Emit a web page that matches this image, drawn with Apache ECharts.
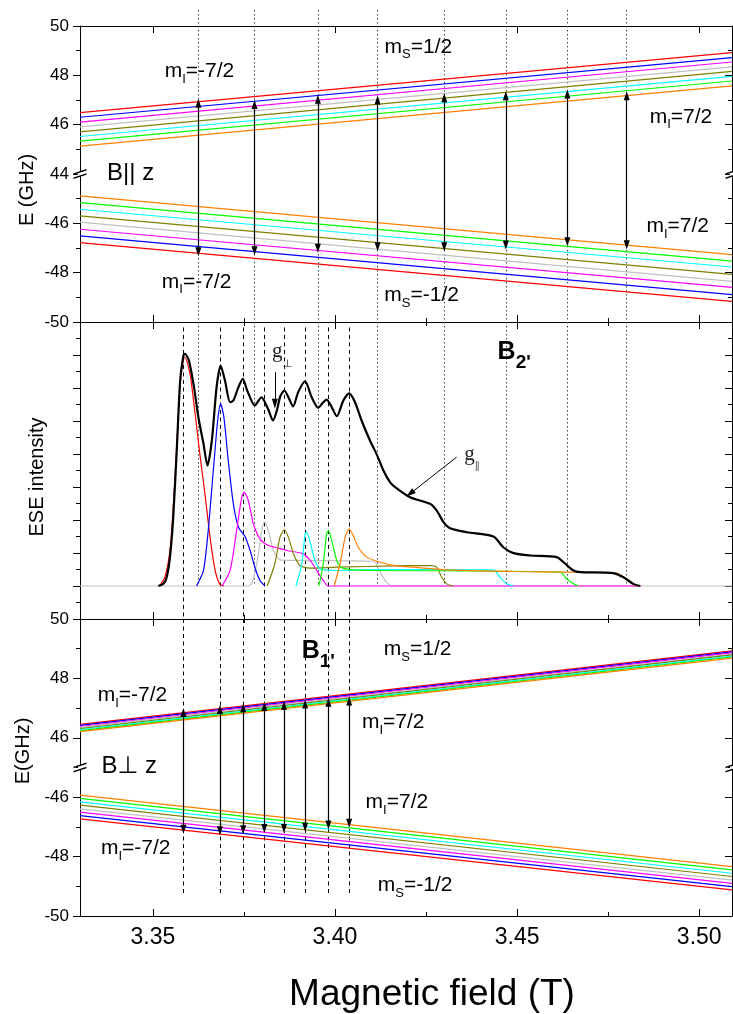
<!DOCTYPE html>
<html>
<head>
<meta charset="utf-8">
<script src="https://cdn.jsdelivr.net/npm/echarts@6/dist/echarts.min.js"></script>
<style>html,body{margin:0;padding:0;background:#fff}#main{width:733px;height:1014px}</style>
</head>
<body>
<div id="main"></div>
<script>
// magnetic field range (T) and x ticks
const fieldRange = [3.33, 3.509];
const xMajorTicks = [3.35, 3.40, 3.45, 3.50];
const xMinorTicks = [3.375, 3.425, 3.475];

// colours of the hyperfine lines, mI = -7/2 ... 7/2
const mIColors = ['#ff0000', '#0000ff', '#ff00ff', '#c0c0c0', '#808000', '#00ffff', '#00ff00', '#ff8000'];

// B || z : levels (GHz) at the two ends of the field range, mI = -7/2 ... 7/2
const parUpperStart = [46.49, 46.30, 46.10, 45.91, 45.71, 45.52, 45.33, 45.13];
const parUpperEnd   = [48.92, 48.72, 48.54, 48.34, 48.16, 47.96, 47.77, 47.57];
const parLowerStart = [-46.78, -46.51, -46.24, -45.95, -45.70, -45.43, -45.16, -44.89];
const parLowerEnd   = [-49.16, -48.89, -48.60, -48.35, -48.07, -47.77, -47.53, -47.27];
// B || z : transitions
const parFields = [3.3625, 3.3779, 3.3953, 3.4117, 3.4300, 3.4469, 3.4638, 3.4801];
const parTop    = [46.87, 46.82, 47.03, 47.00, 47.09, 47.17, 47.24, 47.17];
const parBottom = [-47.15, -47.11, -47.01, -46.95, -46.95, -46.88, -46.75, -46.87];

// B perp z : levels
const perUpperStart = [46.45, 46.42, 46.38, 46.35, 46.31, 46.28, 46.24, 46.21];
const perUpperEnd   = [48.93, 48.89, 48.86, 48.82, 48.79, 48.75, 48.72, 48.68];
const perLowerStart = [-46.73, -46.62, -46.50, -46.39, -46.27, -46.16, -46.04, -45.93];
const perLowerEnd   = [-49.12, -49.01, -48.90, -48.79, -48.67, -48.56, -48.45, -48.34];
// B perp z : transitions
const perFields = [3.3584, 3.3684, 3.3748, 3.3806, 3.3860, 3.3918, 3.3982, 3.4039];
const perTop    = [46.85, 46.95, 47.01, 47.05, 47.09, 47.14, 47.20, 47.24];
const perBottom = [-47.08, -47.13, -47.10, -47.05, -47.05, -47.01, -46.94, -46.88];

// ESE spectrum: total and one curve per mI
const eseTotal = [[3.3515,0],[3.3529,0.013],[3.3538,0.053],[3.3547,0.175],[3.3556,0.417],[3.3566,0.841],[3.3575,1.245],[3.3584,1.397],[3.3588,1.407],[3.3599,1.367],[3.3613,1.205],[3.3625,1.023],[3.3639,0.862],[3.3650,0.730],[3.3662,0.882],[3.3675,1.205],[3.3686,1.336],[3.3698,1.245],[3.3712,1.114],[3.3721,1.124],[3.3735,1.205],[3.3747,1.256],[3.3759,1.185],[3.3780,1.094],[3.3798,1.144],[3.3816,1.074],[3.3830,1.003],[3.3840,1.060],[3.3850,1.150],[3.3861,1.185],[3.3874,1.135],[3.3885,1.088],[3.3899,1.175],[3.3918,1.241],[3.3936,1.144],[3.3954,1.080],[3.3968,1.114],[3.3977,1.130],[3.3991,1.084],[3.4005,1.029],[3.4023,1.124],[3.4039,1.168],[3.4055,1.114],[3.4073,1.003],[3.4096,0.882],[3.4114,0.801],[3.4133,0.700],[3.4151,0.629],[3.4165,0.599],[3.4206,0.538],[3.4261,0.498],[3.4279,0.458],[3.4298,0.387],[3.4316,0.350],[3.4362,0.326],[3.4435,0.300],[3.4462,0.235],[3.4490,0.199],[3.4536,0.185],[3.4609,0.175],[3.4632,0.135],[3.4655,0.094],[3.4673,0.084],[3.4764,0.078],[3.4792,0.053],[3.4819,0.013],[3.4838,0]];
const eseM72 = [[3.3518,0],[3.3533,0.053],[3.3547,0.215],[3.3556,0.478],[3.3566,0.862],[3.3575,1.225],[3.3584,1.377],[3.3588,1.385],[3.3602,1.286],[3.3616,1.044],[3.3629,0.801],[3.3643,0.559],[3.3657,0.296],[3.3671,0.094],[3.3684,0.009],[3.3695,0]];
const eseM52 = [[3.3620,0],[3.3639,0.094],[3.3652,0.336],[3.3666,0.700],[3.3678,1.003],[3.3686,1.104],[3.3695,1.023],[3.3707,0.761],[3.3721,0.498],[3.3735,0.356],[3.3753,0.300],[3.3767,0.215],[3.3780,0.114],[3.3794,0.033],[3.3808,0]];
const eseM32 = [[3.3690,0],[3.3712,0.094],[3.3730,0.336],[3.3744,0.538],[3.3751,0.568],[3.3762,0.518],[3.3776,0.377],[3.3794,0.286],[3.3817,0.245],[3.3835,0.235],[3.3868,0.215],[3.3913,0.195],[3.3932,0.155],[3.3950,0.094],[3.3968,0.033],[3.3982,0],[3.4840,0]];
const eseM12 = [[3.3300,0],[3.3762,0],[3.3785,0.135],[3.3799,0.336],[3.3806,0.387],[3.3817,0.336],[3.3831,0.215],[3.3849,0.158],[3.3877,0.155],[3.4105,0.150],[3.4124,0.084],[3.4142,0.020],[3.4160,0],[3.5090,0]];
const eseP12 = [[3.3814,0],[3.3835,0.135],[3.3849,0.296],[3.3861,0.341],[3.3872,0.296],[3.3886,0.195],[3.3904,0.124],[3.3932,0.108],[3.4005,0.114],[3.4165,0.122],[3.4261,0.124],[3.4279,0.114],[3.4293,0.053],[3.4307,0.013],[3.4325,0]];
const eseP32 = [[3.3893,0],[3.3909,0.135],[3.3918,0.316],[3.3922,0.326],[3.3933,0.256],[3.3945,0.155],[3.3959,0.104],[3.4005,0.094],[3.4124,0.100],[3.4435,0.098],[3.4453,0.053],[3.4472,0.013],[3.4490,0]];
const eseP52 = [[3.3956,0],[3.3968,0.135],[3.3977,0.316],[3.3982,0.336],[3.3991,0.276],[3.4005,0.155],[3.4019,0.110],[3.4050,0.098],[3.4124,0.094],[3.4618,0.084],[3.4636,0.044],[3.4655,0.013],[3.4668,0]];
const eseP72 = [[3.3998,0],[3.4014,0.135],[3.4028,0.296],[3.4039,0.347],[3.4050,0.306],[3.4064,0.235],[3.4087,0.175],[3.4124,0.144],[3.4165,0.124],[3.4215,0.114],[3.4307,0.098],[3.4490,0.088],[3.4636,0.084],[3.4774,0.078],[3.4792,0.053],[3.4815,0.013],[3.4833,0]];
// pointers to g-perp and g-parallel features [field, intensity]
const gPerpArrow = [[3.3835, 1.296], [3.3835, 1.104]];
const gParArrow = [[3.4334, 0.781], [3.4206, 0.559]];

// y tick labels of the two energy panels
const topLabels = {0: '-50', 2: '-48', 4: '-46', 6: '44', 8: '46', 10: '48', 12: '50'};
const botLabels = {0: '-50', 2: '-48', 4: '-46', 6: '46', 8: '48', 10: '50'};

// broken energy axes -> plotted value
const mapTop = e => e > 0 ? e - 38 : e + 50;
const mapBot = e => e > 0 ? e - 40 : e + 50;

const SANS = 'Liberation Sans, Arial, DejaVu Sans';
const rich = {
  m: {fontFamily: SANS, fontSize: 21, lineHeight: 29, color: '#000'},
  s: {fontFamily: SANS, fontSize: 13, lineHeight: 12, verticalAlign: 'bottom', color: '#000'},
  b: {fontFamily: SANS, fontSize: 24, lineHeight: 28, color: '#000'},
  bb: {fontFamily: SANS, fontSize: 25, fontWeight: 'bold', lineHeight: 40, color: '#000'},
  bs: {fontFamily: SANS, fontSize: 19, fontWeight: 'bold', lineHeight: 18, verticalAlign: 'bottom', color: '#000'},
  g: {fontFamily: 'Liberation Serif, Times New Roman, serif', fontSize: 21, lineHeight: 36, color: '#222'},
  gs: {fontFamily: 'DejaVu Serif, Liberation Serif, serif', fontSize: 11, lineHeight: 10, verticalAlign: 'bottom', color: '#555'}
};
const mI = v => '{m|m}{s|I}{m|=' + v + '}';
const mS = v => '{m|m}{s|S}{m|=' + v + '}';

// annotation positions [field, energy or intensity, text]
const topTexts = [
  [3.3628, 48.15, mI('-7/2')], [3.4229, 49.16, mS('1/2')], [3.4950, 46.32, mI('7/2')],
  [3.3439, 44.03, '{b|B|| z}'], [3.4941, -46.11, mI('7/2')], [3.3620, -48.37, mI('-7/2')],
  [3.4238, -48.91, mS('-1/2')]
];
const midTexts = [
  [3.3856, 1.419, '{g|g}{gs|⊥}'], [3.4492, 1.417, "{bb|B}{bs|2'}"], [3.4376, 0.797, '{g|g}{gs|∥}']
];
const botTexts = [
  [3.3954, 48.91, "{bb|B}{bs|1'}"], [3.4227, 48.98, mS('1/2')], [3.3444, 47.44, mI('-7/2')],
  [3.4160, 46.52, mI('7/2')], [3.3435, 45.03, '{b|B⊥ z}'], [3.4170, -46.18, mI('7/2')],
  [3.3453, -47.72, mI('-7/2')], [3.4220, -48.96, mS('-1/2')]
];

const grids = [
  {left: 80, top: 26, width: 652, height: 296},
  {left: 80, top: 322, width: 652, height: 297},
  {left: 80, top: 619, width: 652, height: 297}
];

const xAxes = [];
const mainX = [];
function addX(g, position, values, len, line, labels) {
  xAxes.push({
    type: 'value', gridIndex: g, position: position, min: fieldRange[0], max: fieldRange[1],
    axisLine: {show: line, onZero: false, lineStyle: {color: '#000', width: 1}},
    axisTick: {show: true, inside: true, length: len, customValues: values, lineStyle: {color: '#000', width: 1}},
    axisLabel: {show: labels, customValues: values, margin: 10, color: '#000', fontSize: 23, fontFamily: SANS,
      formatter: v => v.toFixed(2)},
    splitLine: {show: false}
  });
  return xAxes.length - 1;
}
grids.forEach((gr, g) => {
  mainX.push(addX(g, 'bottom', xMajorTicks, 7, true, g === 2));
  addX(g, 'bottom', xMinorTicks, 4, false, false);
  addX(g, 'top', xMajorTicks, 7, true, false);
  if (g > 0) addX(g, 'top', xMinorTicks, 4, false, false);
});

const yRanges = [[0, 12, 2], [-0.2, 1.6, 0.2], [0, 10, 2]];
const yLabels = [topLabels, null, botLabels];
const yAxes = [];
yRanges.forEach((r, g) => {
  const common = {type: 'value', gridIndex: g, min: r[0], max: r[1], interval: r[2], splitLine: {show: false},
    axisLine: {show: true, onZero: false, lineStyle: {color: '#000', width: 1}},
    minorTick: {show: true, splitNumber: 2, length: 4, lineStyle: {color: '#000'}}};
  yAxes.push(Object.assign({}, common, {
    position: 'left',
    axisTick: {show: true, inside: false, length: 7, lineStyle: {color: '#000'}},
    axisLabel: {show: !!yLabels[g], margin: 11, color: '#000', fontSize: 17, fontFamily: SANS,
      formatter: v => (yLabels[g] && yLabels[g][Math.round(v)] !== undefined) ? yLabels[g][Math.round(v)] : ''}
  }));
  yAxes.push(Object.assign({}, common, {
    position: 'right',
    axisTick: {show: true, inside: true, length: 7, lineStyle: {color: '#000'}},
    axisLabel: {show: false}
  }));
});

const series = [];
function levelSeries(g, start, end, map) {
  start.forEach((e, i) => {
    series.push({
      type: 'line', xAxisIndex: mainX[g], yAxisIndex: 2 * g, symbol: 'none', silent: true,
      data: [[fieldRange[0], map(e)], [fieldRange[1], map(end[i])]],
      lineStyle: {color: mIColors[i], width: 1.2}
    });
  });
}
function vlines(g, fields, y0, y1, style) {
  series.push({
    type: 'lines', coordinateSystem: 'cartesian2d', xAxisIndex: mainX[g], yAxisIndex: 2 * g,
    clip: false, silent: true, z: 1,
    data: fields.map(b => ({coords: [[b, y0], [b, y1]]})),
    lineStyle: style
  });
}
function arrows(g, fields, tops, bottoms, map) {
  series.push({
    type: 'lines', coordinateSystem: 'cartesian2d', xAxisIndex: mainX[g], yAxisIndex: 2 * g,
    silent: true, z: 4, symbol: ['triangle', 'triangle'], symbolSize: [[6, 9], [6, 9]],
    data: fields.map((b, i) => ({coords: [[b, map(tops[i])], [b, map(bottoms[i])]]})),
    lineStyle: {color: '#000', width: 1.2, opacity: 1}
  });
}
function texts(g, list, map) {
  series.push({
    type: 'scatter', xAxisIndex: mainX[g], yAxisIndex: 2 * g, symbolSize: 1, silent: true, z: 6, clip: false,
    itemStyle: {color: 'rgba(255,255,255,0)', opacity: 1},
    data: list.map(t => ({value: [t[0], map(t[1])], label: {show: true, position: 'inside', formatter: t[2],
      color: '#000', opacity: 1, textBorderWidth: 0, textShadowBlur: 0, rich: rich}}))
  });
}
function breaks(g, y) {
  series.push({
    type: 'scatter', xAxisIndex: mainX[g], yAxisIndex: 2 * g, clip: false, silent: true, z: 7,
    symbol: 'rect', symbolSize: [4, 4], itemStyle: {color: '#fff', opacity: 1},
    data: [[fieldRange[0], y], [fieldRange[1], y]]
  });
  series.push({
    type: 'scatter', xAxisIndex: mainX[g], yAxisIndex: 2 * g, clip: false, silent: true, z: 8,
    symbol: 'path://M0,5 L14,1 L14,2.3 L0,6.3 Z M0,9 L14,5 L14,6.3 L0,10.3 Z', symbolSize: [13, 10],
    itemStyle: {color: '#000', opacity: 1},
    data: [[fieldRange[0], y], [fieldRange[1], y]]
  });
}

const dotted = {color: '#444', width: 1, type: [1.5, 2.5], opacity: 1};
const dashed = {color: '#000', width: 1, type: [4, 3.5], opacity: 1};

// top panel: B || z
vlines(0, parFields, 12.65, 0, dotted);
levelSeries(0, parUpperStart, parUpperEnd, mapTop);
levelSeries(0, parLowerStart, parLowerEnd, mapTop);
arrows(0, parFields, parTop, parBottom, mapTop);
texts(0, topTexts, mapTop);
breaks(0, 6);

// middle panel: ESE spectrum
vlines(1, parFields, 1.6, 0, dotted);
vlines(1, perFields, 1.567, -0.2, dashed);
const comps = [eseM12, eseM72, eseM52, eseM32, eseP12, eseP32, eseP52, eseP72];
const compColor = [3, 0, 1, 2, 4, 5, 6, 7];
comps.forEach((d, i) => {
  series.push({
    type: 'line', xAxisIndex: mainX[1], yAxisIndex: 2, symbol: 'none', silent: true, smooth: 0.25,
    data: d, z: 2, lineStyle: {color: mIColors[compColor[i]], width: 1.2}
  });
});
series.push({
  type: 'line', xAxisIndex: mainX[1], yAxisIndex: 2, symbol: 'none', silent: true, smooth: 0.25,
  data: eseTotal, z: 3, lineStyle: {color: '#000', width: 2.2}
});
series.push({
  type: 'lines', coordinateSystem: 'cartesian2d', xAxisIndex: mainX[1], yAxisIndex: 2, silent: true, z: 5,
  symbol: ['none', 'triangle'], symbolSize: [[6, 10], [6, 10]],
  data: [{coords: gPerpArrow}, {coords: gParArrow}],
  lineStyle: {color: '#000', width: 1, opacity: 1}
});
texts(1, midTexts, v => v);

// bottom panel: B perp z
vlines(2, perFields, 10, 0.707, dashed);
levelSeries(2, perLowerStart, perLowerEnd, mapBot);
levelSeries(2, perUpperStart, perUpperEnd, mapBot);
arrows(2, perFields, perTop, perBottom, mapBot);
texts(2, botTexts, mapBot);
breaks(2, 5);

const nameStyle = (text, x, y, size, rot) => ({
  type: 'text', x: x, y: y, rotation: rot, silent: true,
  style: {text: text, fontSize: size, fontFamily: SANS, fill: '#000', align: 'center', verticalAlign: 'middle'}
});

const chart = echarts.init(document.getElementById('main'), null, {renderer: 'canvas'});
chart.setOption({
  animation: false,
  backgroundColor: '#fff',
  grid: grids,
  xAxis: xAxes,
  yAxis: yAxes,
  series: series,
  graphic: [
    nameStyle('E (GHz)', 27, 190, 20, Math.PI / 2),
    nameStyle('ESE intensity', 37, 477, 20, Math.PI / 2),
    nameStyle('E(GHz)', 23, 751, 20, Math.PI / 2),
    nameStyle('Magnetic field (T)', 432, 995, 37, 0)
  ]
});
</script>
</body>
</html>
